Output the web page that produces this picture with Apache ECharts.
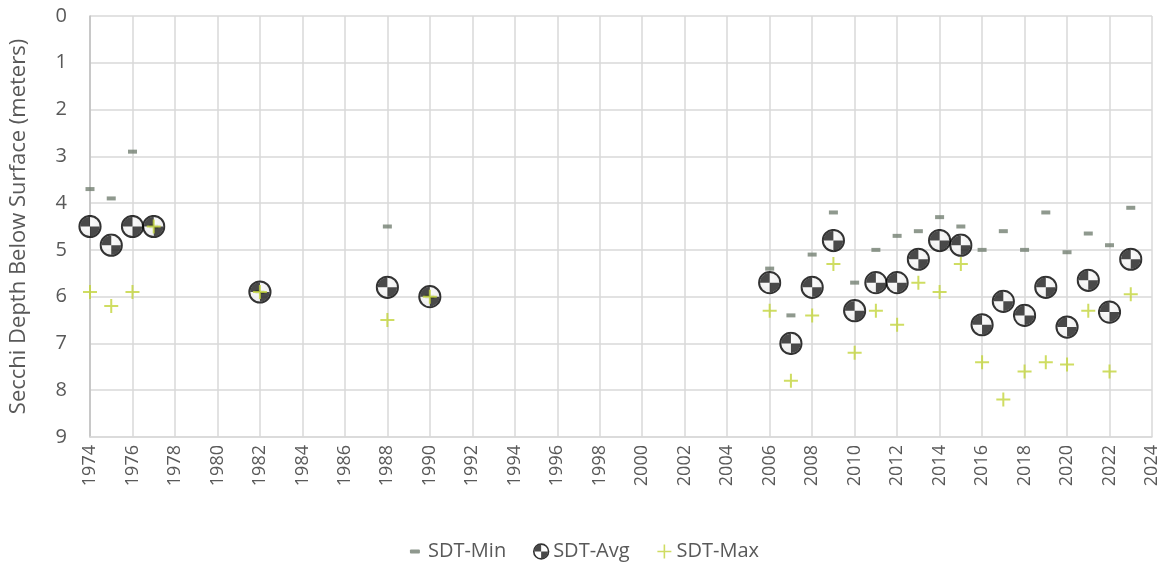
<!DOCTYPE html>
<html>
<head>
<meta charset="utf-8">
<script src="https://cdn.jsdelivr.net/npm/echarts@6/dist/echarts.min.js"></script>
<style>
html,body{margin:0;padding:0;background:#fff;}
#chart{width:1166px;height:565px;}
</style>
</head>
<body>
<div id="chart"></div>
<script>
const years = [1974,1975,1976,1977,1982,1988,1990,2006,2007,2008,2009,2010,2011,2012,2013,2014,2015,2016,2017,2018,2019,2020,2021,2022,2023];
const sdtMin = [3.7,3.9,2.9,4.5,5.9,4.5,6.0,5.4,6.4,5.1,4.2,5.7,5.0,4.7,4.6,4.3,4.5,5.0,4.6,5.0,4.2,5.05,4.65,4.9,4.1];
const sdtAvg = [4.5,4.9,4.5,4.5,5.9,5.8,6.0,5.7,7.0,5.8,4.8,6.3,5.7,5.7,5.2,4.8,4.9,6.6,6.1,6.4,5.8,6.65,5.65,6.33,5.2];
const sdtMax = [5.9,6.2,5.9,4.5,5.9,6.5,6.0,6.3,7.8,6.4,5.3,7.2,6.3,6.6,5.7,5.9,5.3,7.4,8.2,7.6,7.4,7.45,6.3,7.6,5.95];
const yTicks = [0,1,2,3,4,5,6,7,8,9];

const pair = (vals) => years.map((y,i) => [y, vals[i]]);
const svgImg = (s) => 'image://data:image/svg+xml;charset=utf-8,' + encodeURIComponent(s);

const MIN_COLOR = '#737f72';
const MAX_COLOR = '#c3d43b';

const diskSvg = "<svg xmlns='http://www.w3.org/2000/svg' width='48' height='48' viewBox='0 0 24 24'>" +
  "<defs><radialGradient id='g' cx='0.4' cy='0.35' r='0.7'><stop offset='0' stop-color='#ffffff'/><stop offset='1' stop-color='#e6e6e6'/></radialGradient></defs>" +
  "<circle cx='12' cy='12' r='10.6' fill='url(#g)' stroke='#000' stroke-width='2'/>" +
  "<path d='M12 12 L12 2.2 A9.8 9.8 0 0 0 2.2 12 Z' fill='#1c1c1c'/>" +
  "<path d='M12 12 L12 21.8 A9.8 9.8 0 0 0 21.8 12 Z' fill='#1c1c1c'/>" +
  "</svg>";
const diskSymbol = svgImg(diskSvg);
const plusSymbol = 'path://M6,0H8V6H14V8H8V14H6V8H0V6H6Z';

const minIcon = svgImg("<svg xmlns='http://www.w3.org/2000/svg' width='36' height='36' viewBox='0 0 18 18'><rect x='3' y='7.5' width='10' height='4' rx='1' fill='" + MIN_COLOR + "'/></svg>");
const avgIcon = svgImg("<svg xmlns='http://www.w3.org/2000/svg' width='36' height='36' viewBox='0 0 18 18'>" +
  "<circle cx='9' cy='9.5' r='7.4' fill='#fff' stroke='#000' stroke-width='1.6'/>" +
  "<path d='M9 9.5 L9 2.6 A6.9 6.9 0 0 0 2.1 9.5 Z' fill='#1c1c1c'/>" +
  "<path d='M9 9.5 L9 16.4 A6.9 6.9 0 0 0 15.9 9.5 Z' fill='#1c1c1c'/></svg>");
const maxIcon = svgImg("<svg xmlns='http://www.w3.org/2000/svg' width='36' height='36' viewBox='0 0 18 18'><path d='M8,2.5H9.6V8.7H15.8V10.3H9.6V16.5H8V10.3H1.8V8.7H8Z' fill='" + MAX_COLOR + "'/></svg>");

const chart = echarts.init(document.getElementById('chart'));
chart.setOption({
  animation: false,
  grid: {left: 87, right: 14, top: 16, bottom: 128, containLabel: false},
  legend: {
    top: 536, left: 'center',
    itemGap: 26, itemWidth: 18, itemHeight: 18,
    textStyle: {fontSize: 20, color: '#595959', fontFamily: 'Open Sans', padding: [0,0,0,-2]},
    data: [
      {name: 'SDT-Min', icon: minIcon},
      {name: 'SDT-Avg', icon: avgIcon},
      {name: 'SDT-Max', icon: maxIcon}
    ]
  },
  xAxis: {
    type: 'value', min: 1974, max: 2024, interval: 2,
    axisLine: {onZero: false, show: true, lineStyle: {color: '#d9d9d9', width: 1.5}},
    axisTick: {show: false},
    splitLine: {show: true, lineStyle: {color: '#d9d9d9', width: 1.5}},
    axisLabel: {rotate: 90, fontSize: 18, color: '#595959', margin: 8, fontFamily: 'Open Sans', formatter: v => String(v)}
  },
  yAxis: {
    type: 'value', inverse: true, min: yTicks[0], max: yTicks[yTicks.length-1], interval: 1,
    name: 'Secchi Depth Below Surface (meters)', nameLocation: 'middle', nameGap: 60, nameRotate: 90,
    nameTextStyle: {fontSize: 22, color: '#595959', fontFamily: 'Open Sans'},
    axisLine: {show: true, lineStyle: {color: '#bfbfbf', width: 1.5}},
    axisTick: {show: false},
    splitLine: {show: true, lineStyle: {color: '#d9d9d9', width: 1.5}},
    axisLabel: {fontSize: 20, color: '#595959', margin: 23, fontFamily: 'Open Sans'}
  },
  series: [
    {name: 'SDT-Min', type: 'scatter', data: pair(sdtMin), symbol: 'rect', symbolSize: [9, 4],
     itemStyle: {color: MIN_COLOR}, z: 2},
    {name: 'SDT-Avg', type: 'scatter', data: pair(sdtAvg), symbol: diskSymbol, symbolSize: 24, z: 3},
    {name: 'SDT-Max', type: 'scatter', data: pair(sdtMax), symbol: plusSymbol, symbolSize: 14,
     itemStyle: {color: MAX_COLOR}, z: 4}
  ]
});
</script>
</body>
</html>
